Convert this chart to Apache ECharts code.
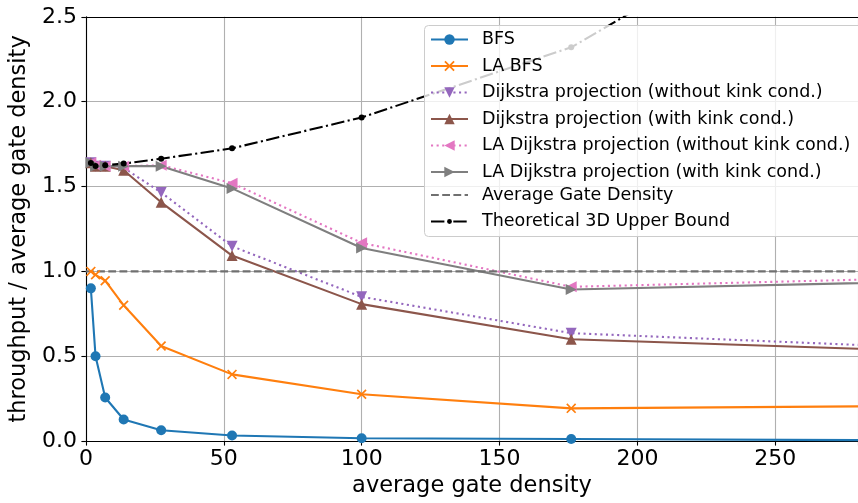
<!DOCTYPE html>
<html>
<head>
<meta charset="utf-8">
<script src="https://cdn.jsdelivr.net/npm/echarts@6/dist/echarts.min.js"></script>
<style>
html,body{margin:0;padding:0;background:#fff;}
#chart{width:858px;height:503px;}
</style>
</head>
<body>
<div id="chart"></div>
<script>
// ---- data ----
const densities = [1.8, 3.5, 7, 13.7, 27.3, 53, 100, 176, 350];
const bfs        = [0.90, 0.50, 0.257, 0.127, 0.064, 0.033, 0.017, 0.012, 0.002];
const laBfs      = [1.00, 0.98, 0.945, 0.80, 0.56, 0.393, 0.276, 0.193, 0.212];
const dijNoKink  = [1.64, 1.62, 1.62, 1.61, 1.465, 1.148, 0.85, 0.636, 0.52];
const dijKink    = [1.64, 1.62, 1.62, 1.596, 1.407, 1.093, 0.807, 0.60, 0.506];
const laDijNoKink= [1.64, 1.625, 1.62, 1.62, 1.625, 1.52, 1.168, 0.909, 0.979];
const laDijKink  = [1.64, 1.62, 1.62, 1.62, 1.62, 1.489, 1.138, 0.893, 0.956];
const upperBound = [1.639, 1.621, 1.625, 1.635, 1.664, 1.725, 1.907, 2.32, 3.97];
const avgDensityX = [0, 350];
const avgDensityY = [1, 1];
const xTicks = [0, 50, 100, 150, 200, 250];
const seriesNames = [
  'BFS', 'LA BFS',
  'Dijkstra projection (without kink cond.)',
  'Dijkstra projection (with kink cond.)',
  'LA Dijkstra projection (without kink cond.)',
  'LA Dijkstra projection (with kink cond.)',
  'Average Gate Density',
  'Theoretical 3D Upper Bound'
];

const pairs = (xs, ys) => xs.map((x, i) => [x, ys[i]]);
const FONT = 'DejaVu Sans';
const LW = 2.1;
const xPath = 'path://M0,0.12L0.12,0L0.5,0.38L0.88,0L1,0.12L0.62,0.5L1,0.88L0.88,1L0.5,0.62L0.12,1L0,0.88L0.38,0.5Z';

function lineSeries(name, data, color, opts) {
  return Object.assign({
    name: name,
    type: 'line',
    data: data,
    clip: true,
    animation: false,
    color: color,
    lineStyle: { color: color, width: LW, type: 'solid' },
    itemStyle: { color: color },
    symbol: 'circle',
    symbolSize: 9,
    showSymbol: true,
    emphasis: { disabled: true }
  }, opts || {});
}

const legendCommon = {
  orient: 'vertical',
  left: 430,
  itemWidth: 37, itemGap: 8.5,
  padding: 0,
  textStyle: { fontFamily: FONT, fontSize: 17.5, color: '#000', padding: [0, 0, 0, 9] },
  symbolRotate: 'inherit',
  selectedMode: false,
  z: 6
};

const chart = echarts.init(document.getElementById('chart'), null, { renderer: 'canvas' });
const option = {
  backgroundColor: '#fff',
  animation: false,
  grid: { left: 81, top: 16.8, width: 782.6, height: 428.2 },
  xAxis: [{
    type: 'value', min: 0, max: 280, interval: 50, position: 'bottom',
    name: 'average gate density', nameLocation: 'middle', nameGap: 32,
    nameTextStyle: { fontFamily: FONT, fontSize: 22.5, color: '#000' },
    axisLine: { show: true, onZero: false, lineStyle: { color: '#000', width: 1.1 } },
    axisTick: { show: true, length: 4.5, lineStyle: { color: '#000', width: 1.1 } },
    axisLabel: { fontFamily: FONT, fontSize: 22, color: '#000', margin: 7,
      customValues: xTicks, formatter: v => String(v) },
    splitLine: { show: true, lineStyle: { color: '#b0b0b0', width: 1.1 } }
  }, {
    type: 'value', min: 0, max: 280, position: 'top',
    axisLine: { show: true, onZero: false, lineStyle: { color: '#000', width: 1.1 } },
    axisTick: { show: false }, axisLabel: { show: false }, splitLine: { show: false }
  }],
  yAxis: {
    type: 'value', min: 0, max: 2.5, interval: 0.5,
    name: 'throughput / average gate density', nameLocation: 'middle', nameGap: 50,
    nameRotate: 90,
    nameTextStyle: { fontFamily: FONT, fontSize: 22.5, color: '#000' },
    axisLine: { show: true, onZero: false, lineStyle: { color: '#000', width: 1.1 } },
    axisTick: { show: true, length: 4.5, lineStyle: { color: '#000', width: 1.1 } },
    axisLabel: { fontFamily: FONT, fontSize: 22, color: '#000', margin: 9,
      formatter: v => Number(v).toFixed(1) },
    splitLine: { show: true, lineStyle: { color: '#b0b0b0', width: 1.1 } }
  },
  graphic: [{
    type: 'rect', left: 424, top: 25, z: 5, silent: true,
    shape: { width: 450, height: 211, r: 4 },
    style: { fill: 'rgba(255,255,255,0.8)', stroke: '#cccccc', lineWidth: 1 }
  }],
  legend: [
    Object.assign({}, legendCommon, { data: seriesNames.slice(0, 6), top: 30.5, itemHeight: 13 }),
    Object.assign({}, legendCommon, { data: seriesNames.slice(6), top: 186, itemHeight: 6 })
  ],
  series: [
    lineSeries(seriesNames[0], pairs(densities, bfs), '#1f77b4', { symbol: 'circle', symbolSize: 10 }),
    lineSeries(seriesNames[1], pairs(densities, laBfs), '#ff7f0e', { symbol: xPath, symbolSize: 10 }),
    lineSeries(seriesNames[2], pairs(densities, dijNoKink), '#9467bd', {
      symbol: 'triangle', symbolSize: 11, symbolRotate: 180,
      lineStyle: { color: '#9467bd', width: LW, type: [2.1, 3.5] } }),
    lineSeries(seriesNames[3], pairs(densities, dijKink), '#8c564b', { symbol: 'triangle', symbolSize: 11 }),
    lineSeries(seriesNames[4], pairs(densities, laDijNoKink), '#e377c2', {
      symbol: 'triangle', symbolSize: 11, symbolRotate: 90,
      lineStyle: { color: '#e377c2', width: LW, type: [2.1, 3.5] } }),
    lineSeries(seriesNames[5], pairs(densities, laDijKink), '#7f7f7f', { symbol: 'triangle', symbolSize: 11, symbolRotate: -90 }),
    lineSeries(seriesNames[6], pairs(avgDensityX, avgDensityY), '#707070', {
      symbol: 'none', showSymbol: false,
      itemStyle: { color: 'rgba(0,0,0,0)' },
      lineStyle: { color: '#707070', width: LW, type: [7.8, 3.4] } }),
    lineSeries(seriesNames[7], pairs(densities, upperBound), '#000000', {
      symbol: 'circle', symbolSize: 6,
      lineStyle: { color: '#000', width: LW, type: [13.4, 3.4, 2.1, 3.4] } })
  ]
};
chart.setOption(option);
</script>
</body>
</html>
